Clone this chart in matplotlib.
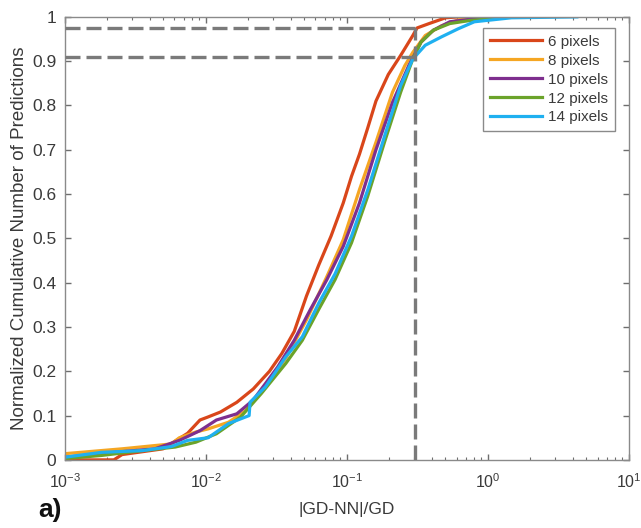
import numpy as np
import matplotlib.pyplot as plt
from matplotlib.ticker import LogLocator, NullFormatter, FixedLocator, FixedFormatter

plt.rcParams['font.family'] = ['Liberation Sans', 'DejaVu Sans']
plt.rcParams['mathtext.fontset'] = 'custom'
plt.rcParams['mathtext.rm'] = 'Liberation Sans'

# cumulative curves (x = |GD-NN|/GD, y = normalized cumulative count)
x6 = [0.001, 0.00223, 0.00255, 0.00498, 0.00743, 0.0091, 0.0104, 0.0127, 0.0166, 0.0217, 0.0283,
      0.0346, 0.0424, 0.0518, 0.0633, 0.0773, 0.0944, 0.108, 0.123, 0.141, 0.161, 0.197, 0.241,
      0.294, 0.315, 0.384, 0.502, 0.615]
y6 = [0.0, 0.0, 0.012, 0.025, 0.06, 0.09, 0.097, 0.108, 0.13, 0.16, 0.20,
      0.24, 0.29, 0.37, 0.44, 0.505, 0.58, 0.64, 0.69, 0.75, 0.81, 0.87, 0.913,
      0.958, 0.975, 0.985, 0.998, 1.0]

x8 = [0.001, 0.00255, 0.00569, 0.0065, 0.00851, 0.0104, 0.0145, 0.019, 0.0265, 0.037, 0.0518,
      0.0723, 0.0944, 0.123, 0.161, 0.211, 0.258, 0.294, 0.36, 0.47, 0.657, 1.05]
y8 = [0.014, 0.025, 0.036, 0.05, 0.063, 0.07, 0.085, 0.11, 0.165, 0.23, 0.316,
      0.414, 0.497, 0.61, 0.717, 0.83, 0.89, 0.92, 0.958, 0.98, 0.996, 1.0]

x10 = [0.001, 0.00223, 0.00436, 0.0065, 0.0091, 0.0119, 0.0166, 0.0217, 0.0324, 0.0424, 0.0553,
       0.0723, 0.0944, 0.123, 0.161, 0.211, 0.275, 0.336, 0.411, 0.538, 0.918]
y10 = [0.006, 0.017, 0.025, 0.044, 0.066, 0.09, 0.104, 0.135, 0.21, 0.27, 0.34,
       0.407, 0.482, 0.58, 0.70, 0.807, 0.89, 0.943, 0.97, 0.989, 0.998]

x12 = [0.001, 0.00182, 0.00357, 0.00608, 0.00851, 0.0119, 0.0177, 0.0248, 0.037, 0.0484, 0.0633,
       0.0826, 0.108, 0.141, 0.185, 0.241, 0.294, 0.336, 0.411, 0.538, 0.751, 1.47]
y12 = [0.003, 0.01, 0.021, 0.029, 0.04, 0.059, 0.097, 0.15, 0.218, 0.27, 0.34,
       0.407, 0.49, 0.596, 0.717, 0.83, 0.905, 0.943, 0.97, 0.985, 0.992, 1.0]

x14 = [0.001, 0.00182, 0.00357, 0.00569, 0.00743, 0.0104, 0.0145, 0.0203, 0.0206, 0.0265, 0.037,
       0.0484, 0.0633, 0.0826, 0.108, 0.141, 0.185, 0.241, 0.294, 0.36, 0.47, 0.615, 0.803,
       1.47, 4.28]
y14 = [0.006, 0.017, 0.021, 0.03, 0.044, 0.05, 0.082, 0.10, 0.13, 0.165, 0.233,
       0.278, 0.354, 0.42, 0.505, 0.61, 0.73, 0.845, 0.905, 0.936, 0.955, 0.973, 0.989,
       0.998, 1.0]

labels = ['6 pixels', '8 pixels', '10 pixels', '12 pixels', '14 pixels']
colors = ['#D9461A', '#F5A623', '#7E2F8E', '#6BA32A', '#1FB0F0']

x_thresh = 0.305
y_levels = [0.975, 0.91]

xt = [1e-3, 1e-2, 1e-1, 1e0, 1e1]
xt_labels = ['$\\mathregular{10^{-3}}$', '$\\mathregular{10^{-2}}$', '$\\mathregular{10^{-1}}$',
             '$\\mathregular{10^{0}}$', '$\\mathregular{10^{1}}$']
yt = [0, 0.1, 0.2, 0.3, 0.4, 0.5, 0.6, 0.7, 0.8, 0.9, 1]
yt_labels = ['0', '0.1', '0.2', '0.3', '0.4', '0.5', '0.6', '0.7', '0.8', '0.9', '1']

fig = plt.figure(figsize=(6.41, 5.28), dpi=100)
ax = fig.add_axes([0.101, 0.129, 0.880, 0.839])

series = [(x6, y6), (x8, y8), (x10, y10), (x12, y12), (x14, y14)]
for (xs, ys), lab, c in zip(series, labels, colors):
    ax.plot(xs, ys, color=c, lw=2.3, label=lab)

dash_kw = dict(color='#7a7a7a', lw=2.4, ls=(0, (4.5, 1.8)), zorder=5)
for yl in y_levels:
    ax.plot([1e-3, x_thresh], [yl, yl], **dash_kw)
ax.plot([x_thresh, x_thresh], [0, y_levels[0]], **dash_kw)

ax.set_xscale('log')
ax.set_xlim(1e-3, 10)
ax.set_ylim(0, 1)
ax.xaxis.set_major_locator(FixedLocator(xt))
ax.xaxis.set_major_formatter(FixedFormatter(xt_labels))
ax.xaxis.set_minor_locator(LogLocator(base=10, subs=np.arange(2, 10), numticks=50))
ax.xaxis.set_minor_formatter(NullFormatter())
ax.yaxis.set_major_locator(FixedLocator(yt))
ax.yaxis.set_major_formatter(FixedFormatter(yt_labels))

txt = '#3a3a3a'
ax.tick_params(which='both', direction='in', top=True, right=True, colors='#6e6e6e',
               labelcolor=txt, labelsize=12.5)
ax.tick_params(axis='x', labelsize=11.5)
ax.tick_params(which='major', length=4, width=1)
ax.tick_params(which='minor', length=2.5, width=0.8)
ax.tick_params(axis='x', pad=9)
ax.tick_params(axis='y', pad=6)
for s in ax.spines.values():
    s.set_color('#8a8a8a')
    s.set_linewidth(1)

ax.set_xlabel('|GD-NN|/GD', fontsize=12.5, color=txt, labelpad=8)
ax.set_ylabel('Normalized Cumulative Number of Predictions', fontsize=13.5, color=txt, labelpad=3)

leg = ax.legend(loc='upper right', fontsize=11, handlelength=3.4, handletextpad=0.4,
                labelspacing=0.32, borderpad=0.45, fancybox=False, framealpha=1,
                bbox_to_anchor=(0.976, 0.975), borderaxespad=0)
leg.get_frame().set_edgecolor('#8a8a8a')
leg.get_frame().set_linewidth(1)
for t in leg.get_texts():
    t.set_color(txt)

fig.text(0.06, 0.012, 'a)', fontsize=19, fontweight='bold', color='#111111', va='bottom')

fig.savefig('out.png', dpi=100)
